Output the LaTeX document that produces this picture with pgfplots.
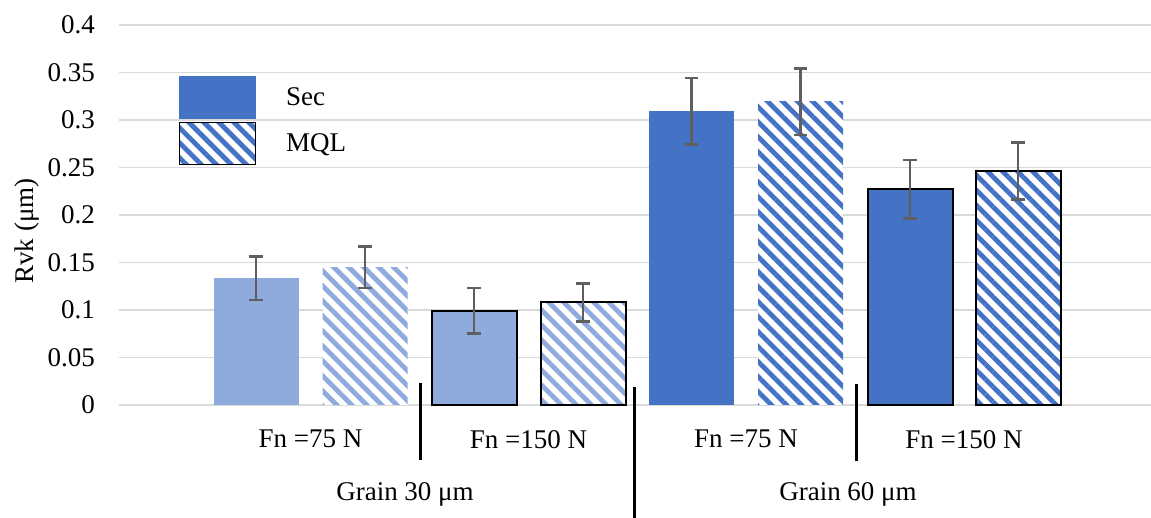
\documentclass[border=0pt]{standalone}
\usepackage{pgfplots}
\pgfplotsset{compat=1.18}
\usepackage{fontspec}
\setmainfont{Liberation Serif}
\usetikzlibrary{patterns.meta}
\definecolor{lb}{HTML}{8FAADC}
\definecolor{db}{HTML}{4472C4}
\definecolor{eb}{HTML}{5F5F5F}
\definecolor{gl}{HTML}{D9D9D9}
\begin{document}
\begin{tikzpicture}[font=\fontsize{13.5}{16}\selectfont]
\useasboundingbox (0,0) rectangle (575.5pt,259pt);
\begin{axis}[
  at={(59.5pt,56.5pt)}, anchor=south west,
  scale only axis, width=516pt, height=190pt,
  xmin=119, xmax=1151, ymin=0, ymax=0.4,
  clip=false,
  axis line style={draw=none},
  major tick length=0pt,
  ymajorgrids, major grid style={color=gl, line width=0.8pt},
  ytick={0,0.05,0.1,0.15,0.2,0.25,0.3,0.35,0.4},
  yticklabel style={/pgf/number format/fixed, /pgf/number format/precision=2, xshift=-8.5pt},
  /pgf/number format/assume math mode=true,
  scaled y ticks=false,
  xtick={310.5,528.5,746,964},
  xticklabels={Fn =75 N, Fn =150 N, Fn =75 N, Fn =150 N},
  xticklabel style={yshift=-9pt},
  ylabel={Rvk (μm)},
  every axis y label/.style={at={(axis description cs:0,0.458)}, xshift=-46pt, rotate=90, anchor=center},
  ybar, bar width=85, bar shift=0pt,
  error bars/y dir=both, error bars/y explicit,
  error bars/error bar style={line width=1.3pt, color=eb},
  error bars/error mark options={rotate=90, mark size=3.4pt, line width=1.3pt, color=eb},
  solidL/.style={fill=lb, draw=none},
  hatchL/.style={fill=white, draw=none, postaction={pattern={Lines[angle=-45,distance=5.3pt,line width=2.4pt]}, pattern color=lb}},
  solidLb/.style={fill=lb, draw=black, line width=1pt},
  hatchLb/.style={fill=white, draw=black, line width=1pt, postaction={pattern={Lines[angle=-45,distance=5.3pt,line width=2.4pt]}, pattern color=lb}},
  solidD/.style={fill=db, draw=none},
  hatchD/.style={fill=white, draw=none, postaction={pattern={Lines[angle=-45,distance=5.3pt,line width=2.4pt]}, pattern color=db}},
  solidDb/.style={fill=db, draw=black, line width=1pt},
  hatchDb/.style={fill=white, draw=black, line width=1pt, postaction={pattern={Lines[angle=-45,distance=5.3pt,line width=2.4pt]}, pattern color=db}},
  legend style={at={(axis cs:179,0.3463)}, anchor=north west, draw=none, fill=none, inner sep=0pt, row sep=1.5pt, nodes={inner sep=0pt}, /tikz/every odd column/.append style={column sep=15pt}},
  legend cell align=left,
]
\addplot[solidL, forget plot] coordinates {(256,0.1335) +- (0,0.023)};
\addplot[hatchL, forget plot] coordinates {(365,0.145) +- (0,0.022)};
\addplot[solidLb, forget plot] coordinates {(474,0.099) +- (0,0.024)};
\addplot[hatchLb, forget plot] coordinates {(583,0.108) +- (0,0.020)};
\addplot[solidD, forget plot] coordinates {(691.5,0.309) +- (0,0.035)};
\addplot[hatchD, forget plot] coordinates {(800.5,0.319) +- (0,0.035)};
\addplot[solidDb, forget plot] coordinates {(910,0.227) +- (0,0.031)};
\addplot[hatchDb, forget plot] coordinates {(1018,0.246) +- (0,0.030)};
\addlegendimage{legend image code/.code={\fill[db] (0pt,-10.5pt) rectangle (38pt,10.5pt);}}
\addlegendentry{Sec}
\addlegendimage{legend image code/.code={\fill[white] (0pt,-10.5pt) rectangle (38pt,10.5pt); \fill[pattern={Lines[angle=-45,distance=5.3pt,line width=2.4pt]}, pattern color=db] (0pt,-10.5pt) rectangle (38pt,10.5pt);}}
\addlegendentry{MQL}
\draw[line width=1.5pt] ([yshift=11pt]axis cs:420,0) -- ([yshift=-27.5pt]axis cs:420,0);
\draw[line width=1.5pt] ([yshift=9pt]axis cs:634,0) -- ([yshift=-56.5pt]axis cs:634,0);
\draw[line width=1.5pt] ([yshift=10.5pt]axis cs:856,0) -- ([yshift=-28pt]axis cs:856,0);
\node[anchor=center] at ([yshift=-44.5pt]axis cs:405,0) {Grain 30 μm};
\node[anchor=center] at ([yshift=-44.5pt]axis cs:848,0) {Grain 60 μm};
\end{axis}
\end{tikzpicture}
\end{document}
